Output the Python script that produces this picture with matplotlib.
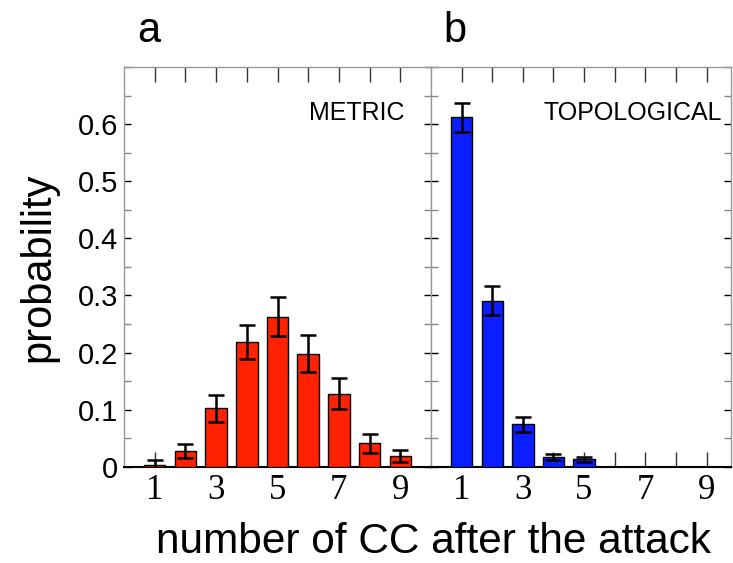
import matplotlib
matplotlib.use("Agg")
import matplotlib.pyplot as plt
import numpy as np
from matplotlib.ticker import MultipleLocator, FixedLocator

# ---- data ----
n_cc = [1, 2, 3, 4, 5, 6, 7, 8, 9]
metric_prob = [0.003, 0.028, 0.102, 0.218, 0.263, 0.198, 0.128, 0.041, 0.019]
metric_err = [0.008, 0.012, 0.024, 0.030, 0.034, 0.032, 0.027, 0.017, 0.011]
topo_cc = [1, 2, 3, 4, 5]
topo_prob = [0.612, 0.291, 0.074, 0.017, 0.013]
topo_err = [0.025, 0.026, 0.013, 0.006, 0.004]
xtick_vals = [1, 2, 3, 4, 5, 6, 7, 8, 9]
xtick_labels = ["1", "", "3", "", "5", "", "7", "", "9"]
ytick_vals = [0, 0.1, 0.2, 0.3, 0.4, 0.5, 0.6]
ytick_labels = ["0", "0.1", "0.2", "0.3", "0.4", "0.5", "0.6"]

RED = "#ff2200"
BLUE = "#0a1eff"
SANS = "Liberation Sans"
SERIF = "Liberation Serif"

W, H = 733, 563
fig = plt.figure(figsize=(W / 100, H / 100), dpi=100)

y_bot = 466.7
y_top = 67
ax1 = fig.add_axes([124 / W, 1 - y_bot / H, (431 - 124) / W, (y_bot - y_top) / H])
ax2 = fig.add_axes([431 / W, 1 - y_bot / H, (731 - 431) / W, (y_bot - y_top) / H])


def style(ax, xmax, show_ylabels):
    ax.set_xlim(0, xmax)
    ax.set_ylim(0, 0.7)
    for s in ["top", "left", "right"]:
        ax.spines[s].set_color("#999999")
        ax.spines[s].set_linewidth(1.0)
    ax.spines["bottom"].set_color("black")
    ax.spines["bottom"].set_linewidth(1.5)
    ax.xaxis.set_major_locator(FixedLocator(xtick_vals))
    ax.set_xticklabels(xtick_labels, fontfamily=SERIF, fontsize=25)
    ax.yaxis.set_major_locator(FixedLocator(ytick_vals))
    ax.yaxis.set_minor_locator(MultipleLocator(0.05))
    if show_ylabels:
        ax.set_yticklabels(ytick_labels, fontfamily=SANS, fontsize=21)
    else:
        ax.set_yticklabels([])
    ax.tick_params(axis="x", which="major", direction="in", top=True, bottom=True,
                   length=11, width=1.0, color="#333333", pad=5)
    ax.tick_params(axis="y", which="major", direction="in", left=True, right=True,
                   length=5, width=1.0, color="black", pad=4)
    ax.tick_params(axis="y", which="minor", direction="in", left=True, right=True,
                   length=5, width=1.0, color="#888888")
    ax.tick_params(axis="x", which="minor", bottom=False, top=False)


ekw = dict(elinewidth=1.8, capsize=6, capthick=1.8, ecolor="black")
ax1.bar(n_cc, metric_prob, width=0.7, color=RED, edgecolor="black", linewidth=1.0,
        yerr=metric_err, error_kw=ekw, zorder=3)
ax2.bar(topo_cc, topo_prob, width=0.7, color=BLUE, edgecolor="black", linewidth=1.0,
        yerr=topo_err, error_kw=ekw, zorder=3)

style(ax1, 10, True)
style(ax2, 9.8, False)

ax1.text(0.915, 0.867, "METRIC", transform=ax1.transAxes, ha="right", va="baseline",
         fontfamily=SANS, fontsize=18)
ax2.text(0.97, 0.867, "TOPOLOGICAL", transform=ax2.transAxes, ha="right", va="baseline",
         fontfamily=SANS, fontsize=18)

ax1.set_ylabel("probability", fontfamily=SANS, fontsize=30, labelpad=14)
fig.text(433 / W, 1 - 553 / H, "number of CC after the attack", ha="center",
         va="baseline", fontfamily=SANS, fontsize=30.5)

fig.text(137 / W, 1 - 42 / H, "a", fontfamily=SANS, fontsize=30, va="baseline")
fig.text(443 / W, 1 - 42 / H, "b", fontfamily=SANS, fontsize=30, va="baseline")

fig.savefig("out.png", dpi=100)
